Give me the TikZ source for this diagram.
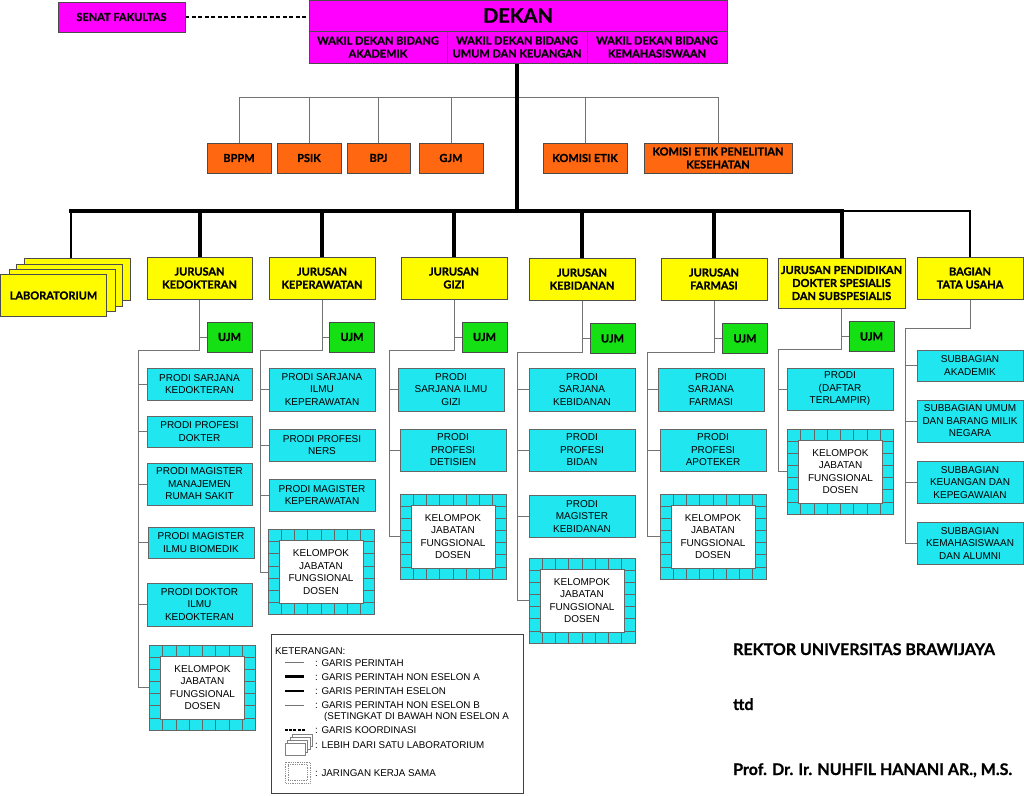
\documentclass[tikz,border=0pt]{standalone}
\usepackage{fontspec}
\setmainfont{Liberation Sans}
\newfontfamily\hdfont{Lato}[BoldFeatures={FakeBold=0.8}]
\usetikzlibrary{backgrounds}
\definecolor{mag}{RGB}{255,0,255}
\definecolor{ora}{RGB}{255,104,16}
\definecolor{yel}{RGB}{255,252,0}
\definecolor{grn}{RGB}{20,224,20}
\definecolor{cyn}{RGB}{32,230,240}
\tikzset{
  box/.style={draw=black!70, line width=0.8pt, inner sep=1pt, align=center,
    font=\hdfont\bfseries\fontsize{11}{13}\selectfont},
  magbox/.style={box, fill=mag},
  orabox/.style={box, fill=ora, minimum height=30pt},
  yelbox/.style={box, fill=yel, minimum width=106pt, minimum height=42pt},
  ujmbox/.style={box, fill=grn, minimum width=45pt, minimum height=30pt},
  prodi/.style={draw=black!60, line width=0.8pt, fill=cyn, align=center, inner sep=1pt,
    font=\fontsize{10}{12.5}\selectfont, minimum width=106pt},
  kel/.style={prodi, minimum width=106pt, minimum height=85pt, path picture={
    \coordinate (pc) at (path picture bounding box.center);
    \fill[white] ([shift={(-42pt,-31.5pt)}]pc) rectangle ([shift={(42pt,31.5pt)}]pc);
    \draw[black!60, line width=0.7pt] ([shift={(-42pt,-31.5pt)}]pc) rectangle ([shift={(42pt,31.5pt)}]pc);
    \foreach \i in {1,...,7} {
      \draw[black!60, line width=0.6pt] ([shift={({-53pt+\i*13.25pt},42.5pt)}]pc) -- ++(0pt,-11pt);
      \draw[black!60, line width=0.6pt] ([shift={({-53pt+\i*13.25pt},-42.5pt)}]pc) -- ++(0pt,11pt);
    }
    \foreach \j in {1,...,6} {
      \draw[black!60, line width=0.6pt] ([shift={(-53pt,{-42.5pt+\j*12.143pt})}]pc) -- ++(11pt,0pt);
      \draw[black!60, line width=0.6pt] ([shift={(53pt,{-42.5pt+\j*12.143pt})}]pc) -- ++(-11pt,0pt);
    }
  }},
  conn/.style={draw=black!55, line width=1pt},
  mainline/.style={draw=black, line width=4pt},
  eselon/.style={draw=black, line width=1.6pt},
  coord/.style={draw=black, line width=1.3pt, dash pattern=on 4pt off 2.5pt},
  legtext/.style={anchor=west, inner sep=0pt, font=\fontsize{9.8}{12}\selectfont},
  sig/.style={anchor=base west, inner sep=0pt, font=\hdfont\bfseries\fontsize{16}{19}\selectfont}
}
\begin{document}
\begin{tikzpicture}[x=1pt,y=-1pt]
\useasboundingbox (0,0) rectangle (1024,795);
% top
\node[magbox, minimum width=127pt, minimum height=30pt] (senat) at (121.5,17) {SENAT FAKULTAS};
\node[magbox, minimum width=418pt, minimum height=31pt, font=\hdfont\bfseries\fontsize{20}{22}\selectfont] (dekan) at (518,15.5) {DEKAN};
\node[magbox, minimum width=138pt, minimum height=32pt] (wd1) at (378,47) {WAKIL DEKAN BIDANG\\AKADEMIK};
\node[magbox, minimum width=140pt, minimum height=32pt] (wd2) at (517,47) {WAKIL DEKAN BIDANG\\UMUM DAN KEUANGAN};
\node[magbox, minimum width=140pt, minimum height=32pt] (wd3) at (657,47) {WAKIL DEKAN BIDANG\\KEMAHASISWAAN};
% orange
\node[orabox, minimum width=64pt] (bppm) at (239,158) {BPPM};
\node[orabox, minimum width=64pt] (psik) at (309,158) {PSIK};
\node[orabox, minimum width=63pt] (bpj) at (378.5,158) {BPJ};
\node[orabox, minimum width=64pt] (gjm) at (451,158) {GJM};
\node[orabox, minimum width=84pt] (komisi) at (585,158) {KOMISI ETIK};
\node[orabox, minimum width=148pt] (kepk) at (718,158) {KOMISI ETIK PENELITIAN\\KESEHATAN};
% laboratorium stack
\node[yelbox] (lab4) at (77.3,279.2) {};
\node[yelbox] (lab3) at (69.7,285.5) {};
\node[yelbox] (lab2) at (62.3,290.8) {};
\node[yelbox] (lab) at (53.5,295.5) {LABORATORIUM};
% jurusan
\node[yelbox, minimum width=105pt] (kedo) at (199.5,278) {JURUSAN\\KEDOKTERAN};
\node[yelbox] (kepe) at (322,278) {JURUSAN\\KEPERAWATAN};
\node[yelbox] (gizi) at (454,278) {JURUSAN\\GIZI};
\node[yelbox] (kebi) at (582,279) {JURUSAN\\KEBIDANAN};
\node[yelbox] (farm) at (714,279) {JURUSAN\\FARMASI};
\node[yelbox, minimum width=127pt, minimum height=50pt] (pds) at (841.5,283) {JURUSAN PENDIDIKAN\\DOKTER SPESIALIS\\DAN SUBSPESIALIS};
\node[yelbox] (bag) at (970,278) {BAGIAN\\TATA USAHA};
% UJM
\node[ujmbox] (ujm1) at (229.5,337) {UJM};
\node[ujmbox] (ujm2) at (352,337) {UJM};
\node[ujmbox] (ujm3) at (484.5,337) {UJM};
\node[ujmbox] (ujm4) at (612.5,338.5) {UJM};
\node[ujmbox] (ujm5) at (745,338.5) {UJM};
\node[ujmbox] (ujm6) at (871.5,336.5) {UJM};
% kedokteran
\node[prodi, minimum width=105pt, minimum height=32pt] (k1) at (199.5,384) {PRODI SARJANA\\KEDOKTERAN};
\node[prodi, minimum width=105pt, minimum height=31pt] (k2) at (199.5,431.5) {PRODI PROFESI\\DOKTER};
\node[prodi, minimum width=105pt, minimum height=42pt] (k3) at (199.5,484) {PRODI MAGISTER\\MANAJEMEN\\RUMAH SAKIT};
\node[prodi, minimum width=106pt, minimum height=31pt] (k4) at (201,542.5) {PRODI MAGISTER\\ILMU BIOMEDIK};
\node[prodi, minimum width=105pt, minimum height=43pt] (k5) at (199.5,604.5) {PRODI DOKTOR\\ILMU\\KEDOKTERAN};
\node[kel] (k6) at (202.5,687.5) {KELOMPOK\\JABATAN\\FUNGSIONAL\\DOSEN};
% keperawatan
\node[prodi, minimum height=43pt] (p1) at (322,389.5) {PRODI SARJANA\\ILMU\\KEPERAWATAN};
\node[prodi, minimum height=32pt] (p2) at (322,445) {PRODI PROFESI\\NERS};
\node[prodi, minimum height=32pt] (p3) at (322,495) {PRODI MAGISTER\\KEPERAWATAN};
\node[kel] (p4) at (321,572) {KELOMPOK\\JABATAN\\FUNGSIONAL\\DOSEN};
% gizi
\node[prodi, minimum height=43pt] (g1) at (451,389.5) {PRODI\\SARJANA ILMU\\GIZI};
\node[prodi, minimum height=42pt] (g2) at (453,450) {PRODI\\PROFESI\\DETISIEN};
\node[kel] (g3) at (453,536.5) {KELOMPOK\\JABATAN\\FUNGSIONAL\\DOSEN};
% kebidanan
\node[prodi, minimum height=43pt] (b1) at (582,389.5) {PRODI\\SARJANA\\KEBIDANAN};
\node[prodi, minimum height=42pt] (b2) at (582,450) {PRODI\\PROFESI\\BIDAN};
\node[prodi, minimum height=42pt] (b3) at (582,516) {PRODI\\MAGISTER\\KEBIDANAN};
\node[kel] (b4) at (582,600.5) {KELOMPOK\\JABATAN\\FUNGSIONAL\\DOSEN};
% farmasi
\node[prodi, minimum height=43pt] (f1) at (711,389.5) {PRODI\\SARJANA\\FARMASI};
\node[prodi, minimum height=42pt] (f2) at (713,450) {PRODI\\PROFESI\\APOTEKER};
\node[kel] (f3) at (713,536.5) {KELOMPOK\\JABATAN\\FUNGSIONAL\\DOSEN};
% pds
\node[prodi, minimum height=42pt] (d1) at (840,389) {PRODI\\(DAFTAR\\TERLAMPIR)};
\node[kel] (d2) at (840.5,471.5) {KELOMPOK\\JABATAN\\FUNGSIONAL\\DOSEN};
% bagian tata usaha
\node[prodi, minimum height=31pt] (s1) at (970,365.5) {SUBBAGIAN\\AKADEMIK};
\node[prodi, minimum height=42pt] (s2) at (970,421) {SUBBAGIAN UMUM\\DAN BARANG MILIK\\NEGARA};
\node[prodi, minimum height=42pt] (s3) at (970,482.5) {SUBBAGIAN\\KEUANGAN DAN\\KEPEGAWAIAN};
\node[prodi, minimum height=42pt] (s4) at (970,543.5) {SUBBAGIAN\\KEMAHASISWAAN\\DAN ALUMNI};

% coordinates
\coordinate (tbar) at (517,97);
\coordinate (busL) at (71,211);
\coordinate (busR) at (841.5,211);
\coordinate (kS) at (138,350);
\coordinate (pS) at (260,350);
\coordinate (gS) at (389,350);
\coordinate (bS) at (517,352);
\coordinate (fS) at (647,352);
\coordinate (dS) at (778,349);
\coordinate (sS) at (905,328);

\begin{pgfonlayer}{background}
  \draw[coord] (senat.east) -- (senat.east -| dekan.west);
  \draw[conn] (bppm.north) |- (tbar);
  \draw[conn] (kepk.north) |- (tbar);
  \foreach \n in {psik,bpj,gjm,komisi} \draw[conn] (\n.north) -- (\n.north |- tbar);
  \draw[mainline] (wd2.south) -- (wd2.south |- busL);
  \draw[mainline, line cap=rect] (busL) -- (busR);
  \foreach \n in {kedo,kepe,gizi,kebi,farm,pds} \draw[mainline] (\n.north) -- (\n.north |- busL);
  \draw[black, line width=1.2pt] (busL) -- (busL |- lab4.north);
  \draw[eselon] (busR) -| (bag.north);
  % kedokteran
  \draw[conn] (kedo.south) |- (kS) |- (k6.west);
  \draw[conn] (ujm1.west) -- (ujm1.west -| kedo.south);
  \foreach \n in {k1,k2,k3,k4,k5} \draw[conn] (\n.west) -- (\n.west -| kS);
  % keperawatan
  \draw[conn] (kepe.south) |- (pS) |- (p4.west);
  \draw[conn] (ujm2.west) -- (ujm2.west -| kepe.south);
  \foreach \n in {p1,p2,p3} \draw[conn] (\n.west) -- (\n.west -| pS);
  % gizi
  \draw[conn] (gizi.south) |- (gS) |- (g3.west);
  \draw[conn] (ujm3.west) -- (ujm3.west -| gizi.south);
  \foreach \n in {g1,g2} \draw[conn] (\n.west) -- (\n.west -| gS);
  % kebidanan
  \draw[conn] (kebi.south) |- (bS) |- (b4.west);
  \draw[conn] (ujm4.west) -- (ujm4.west -| kebi.south);
  \foreach \n in {b1,b2,b3} \draw[conn] (\n.west) -- (\n.west -| bS);
  % farmasi
  \draw[conn] (farm.south) |- (fS) |- (f3.west);
  \draw[conn] (ujm5.west) -- (ujm5.west -| farm.south);
  \foreach \n in {f1,f2} \draw[conn] (\n.west) -- (\n.west -| fS);
  % pds
  \draw[conn] (pds.south) |- (dS) |- (d2.west);
  \draw[conn] (ujm6.west) -- (ujm6.west -| pds.south);
  \draw[conn] (d1.west) -- (d1.west -| dS);
  % bagian
  \draw[conn] (bag.south) |- (sS) |- (s4.west);
  \foreach \n in {s1,s2,s3} \draw[conn] (\n.west) -- (\n.west -| sS);
\end{pgfonlayer}

% legend
\node[draw=black!75, line width=0.8pt, minimum width=251.6pt, minimum height=159pt, inner sep=0pt] (leg) at (397.5,714) {};
\node[legtext] (l0) at (275,651) {KETERANGAN:};
\node[legtext] (l1) at (315,662.7) {: GARIS PERINTAH};
\node[legtext] (l2) at (315,676.7) {: GARIS PERINTAH NON ESELON A};
\node[legtext] (l3) at (315,690.7) {: GARIS PERINTAH ESELON};
\node[legtext] (l4) at (315,705) {: GARIS PERINTAH NON ESELON B};
\node[legtext] (l5) at (324,716.7) {(SETINGKAT DI BAWAH NON ESELON A};
\node[legtext] (l6) at (315,730) {: GARIS KOORDINASI};
\node[legtext] (l7) at (315,745) {: LEBIH DARI SATU LABORATORIUM};
\node[legtext] (l8) at (315,772.7) {: JARINGAN KERJA SAMA};
\draw[black!55, line width=0.9pt] (285,662.7) -- (304,662.7);
\draw[black, line width=3.5pt] (285,676.7) -- (304,676.7);
\draw[black, line width=1.8pt] (285,690.7) -- (304,690.7);
\draw[black!55, line width=0.9pt] (285,705) -- (304,705);
\draw[black, line width=1.2pt, dash pattern=on 3pt off 1.2pt] (285,730) -- (305,730);
\foreach \k in {3,2,1,0}
  \draw[black!50, fill=white, line width=0.6pt] (285+2.4*\k,743-3*\k) rectangle ++(20,12);
\draw[black!45, fill=white, line width=0.8pt, densely dotted] (285.5,762) rectangle (310,783);
\draw[black!45, line width=0.8pt, densely dotted] (288,764.5) rectangle (307.5,780.5);

% signature
\node[sig] (rektor) at (733,655) {REKTOR UNIVERSITAS BRAWIJAYA};
\node[sig] (ttd) at (733,710) {ttd};
\node[sig] (prof) at (733,775) {Prof. Dr. Ir. NUHFIL HANANI AR., M.S.};
\end{tikzpicture}
\end{document}
